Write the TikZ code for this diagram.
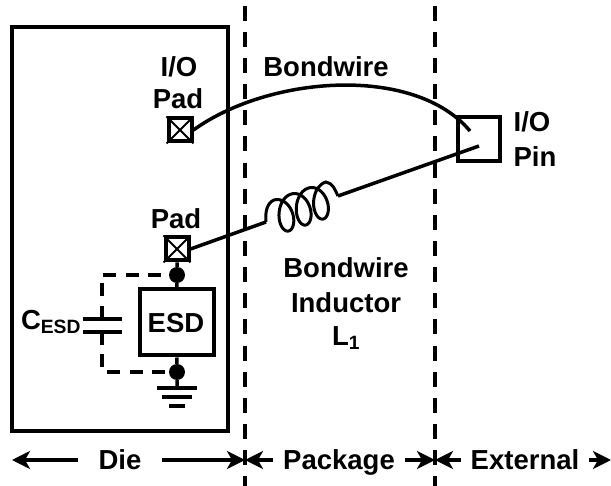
\documentclass[tikz,border=0pt]{standalone}
\usepackage{fontspec}
\setmainfont{Liberation Sans}
\usetikzlibrary{arrows.meta}
\tikzset{
  wire/.style={line width=3.5pt},
  border/.style={line width=3.6pt,dash pattern=on 15pt off 11.14pt,dash phase=20.4pt},
  capwire/.style={line width=3.5pt,dash pattern=on 13pt off 9.5pt},
  span/.style={line width=3.5pt,-{Stealth[length=18pt,width=18pt,inset=5pt]}},
  lbl/.style={inner sep=0pt,align=center,font=\fontsize{27.5}{32}\selectfont\bfseries},
  box/.style={draw,line width=4pt,inner sep=0pt},
  pad/.style={box,fill=white,minimum size=23pt},
  dot/.style={circle,fill,inner sep=0pt,minimum size=16pt}
}
\newcommand{\padcross}[1]{\draw[line width=2pt] (#1.north west) -- (#1.south east) (#1.north east) -- (#1.south west);}
\begin{document}
\begin{tikzpicture}[x=1pt,y=-1pt]
\useasboundingbox (0,0) rectangle (611,486);
\node[box,minimum width=216pt,minimum height=404pt] (die) at (120,229) {};
\foreach \x in {245,435}
  \draw[border] (\x,0) -- (\x,486);
% pads and pin
\node[pad] (padio) at (180,130) {};
\node[pad] (padesd) at (177,249) {};
\padcross{padio}
\padcross{padesd}
\node[box,minimum width=42pt,minimum height=44pt] (pin) at (478.5,139.5) {};
\coordinate (pinA) at (470,131);
\coordinate (pinB) at (479,146);
\draw[wire] (padio.east) .. controls (270,75) and (415,65) .. (pinA);
% inductor
\coordinate (coilA) at (266,222);
\coordinate (coilB) at (338,196);
\draw[wire] (padesd.east) -- (coilA);
\draw[line width=3pt] (coilA) .. controls (265,212) and (267,203) .. (274,200)
  -- plot[domain=180:1260,samples=145,smooth,variable=\t]
    ({277+\t/360*17.3-180/360*17.3+3*cos(\t)-11*sin(\t)},{217-\t/360*6+180/360*6+17*cos(\t)+3*sin(\t)})
  .. controls (333,183) and (335,190) .. (coilB);
\draw[wire] (coilB) -- (pinB);
% esd branch
\node[box,minimum width=74pt,minimum height=66pt] (esd) at (176.5,322.5) {};
\node[lbl] (esdtxt) at (176,323) {ESD};
\node[dot] (dotT) at (177,275) {};
\node[dot] (dotB) at (177,372) {};
\draw[wire] (padesd) -- (dotT) -- (esd);
\draw[wire] (esd) -- (dotB) -- (177,388) coordinate (gnd);
\draw[wire] (157,388) -- (197,388);
\draw[wire] (162,397) -- (192,397);
\draw[wire] (169,406) -- (185,406);
% capacitor
\coordinate (capT) at (102,319);
\coordinate (capB) at (102,332);
\draw[wire] (83,319) -- (122,319);
\draw[wire] (83,332) -- (122,332);
\draw[capwire] (capT) |- (dotT);
\draw[capwire] (capB) |- (dotB);
% labels
\node[lbl] (ioa) at (179,67) {I/O};
\node[lbl] (padb) at (178,99) {Pad};
\node[lbl] (wire) at (326,67) {Bondwire};
\node[lbl] (iob) at (532,122) {I/O};
\node[lbl] (pinl) at (535,157) {Pin};
\node[lbl] (padc) at (176,219) {Pad};
\node[lbl] (ind) at (346,268) {Bondwire};
\node[lbl] (indb) at (346,303) {Inductor};
\node[lbl] (indc) at (346,338) {L\textsubscript{1}};
\node[lbl] (cesd) at (51,322) {C\textsubscript{ESD}};
% bottom row
\node[lbl] (dielbl) at (120,460) {Die};
\node[lbl] (pkg) at (339,462) {Package};
\node[lbl] (ext) at (525,460) {External};
\coordinate (bl) at (12,460);
\coordinate (bm) at (245,460);
\coordinate (br) at (435,460);
\coordinate (be) at (611,460);
\draw[span] (dielbl.west) ++(-20,0) -- (bl);
\draw[span] (dielbl.east) ++(20,0) -- (bm);
\draw[span] (pkg.west) ++(-10,-2) -- (bm);
\draw[span] (pkg.east) ++(10,-2) -- (br);
\draw[span] (ext.west) ++(-10,0) -- (br);
\draw[span] (ext.east) ++(10,0) -- (be);
\end{tikzpicture}
\end{document}
